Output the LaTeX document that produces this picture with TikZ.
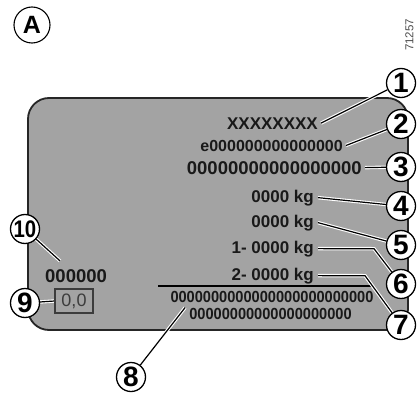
\documentclass[tikz,border=0pt]{standalone}
\usepackage{fontspec}
\setmainfont{Liberation Sans}
\definecolor{platefill}{RGB}{163,163,163}
\definecolor{inkc}{RGB}{25,25,25}
\definecolor{boxc}{RGB}{60,60,60}
\pgfdeclarelayer{bg}
\pgfdeclarelayer{mid}
\pgfsetlayers{bg,mid,main}
\tikzset{
  plate/.style={draw=black!85, line width=1.8pt, fill=platefill, rounded corners=21pt},
  callout/.style={circle, draw=black, line width=1.3pt, fill=white, minimum size=29pt, inner sep=0pt, font=\bfseries\fontsize{28}{28}\selectfont},
  leader/.style={line width=1.2pt, draw=black, preaction={draw=white, line width=3.4pt}},
  ptext/.style={inner sep=0pt, text=inkc, font=\bfseries},
  valbox/.style={draw=boxc, line width=1.1pt, minimum width=38pt, minimum height=24pt, inner sep=0pt, text=boxc, font=\fontsize{18}{18}\selectfont},
  sepline/.style={line width=1.3pt, draw=black}
}
\begin{document}
\begin{tikzpicture}[x=1pt,y=-1pt]
\useasboundingbox (0,0) rectangle (417,393);
% plate
\begin{pgfonlayer}{bg}
\draw[plate] (28,98) rectangle (408,330);
\draw[sepline] (158,286) -- (372,286);
\end{pgfonlayer}
% texts
\node[ptext, anchor=base east] (t1) at (318,129) {\fontsize{17}{17}\selectfont XXXXXXXX};
\node[ptext, anchor=base east] (t2) at (343,151) {\fontsize{16}{16}\selectfont e000000000000000};
\node[ptext, anchor=base east] (t3) at (362,174) {\fontsize{18.5}{18.5}\selectfont 00000000000000000};
\node[ptext, anchor=base east] (t4) at (314,202) {\fontsize{17}{17}\selectfont 0000 kg};
\node[ptext, anchor=base east] (t5) at (314,227) {\fontsize{17}{17}\selectfont 0000 kg};
\node[ptext, anchor=base east] (t6) at (314,253) {\fontsize{17}{17}\selectfont 1- 0000 kg};
\node[ptext, anchor=base east] (t7) at (314,280) {\fontsize{17}{17}\selectfont 2- 0000 kg};
\node[ptext, anchor=base] (t8a) at (272,302) {\scalebox{1}[1.1]{\fontsize{14.6}{14.6}\selectfont 0000000000000000000000000}};
\node[ptext, anchor=base] (t8b) at (270.5,319) {\scalebox{1}[1.1]{\fontsize{14.6}{14.6}\selectfont 00000000000000000000}};
\node[ptext, anchor=base west] (t10) at (45,282) {\fontsize{18.5}{18.5}\selectfont 000000};
\node[valbox] (b9) at (74,301) {0,0};
% callouts
\node[callout] (c1) at (401,83) {1};
\node[callout] (c2) at (401,124) {2};
\node[callout] (c3) at (401,167) {3};
\node[callout] (c4) at (401,206) {4};
\node[callout] (c5) at (401,245) {5};
\node[callout] (c6) at (401,284) {6};
\node[callout] (c7) at (401,325) {7};
\node[callout] (c8) at (131,377) {8};
\node[callout] (c9) at (25,303) {9};
\node[callout] (c10) at (25,229) {\scalebox{0.85}[1]{\fontsize{24}{24}\selectfont 10}};
\node[callout, minimum size=36pt, line width=1.1pt, font=\bfseries\fontsize{25}{25}\selectfont] (cA) at (32,25) {A};
\node[rotate=90, inner sep=0pt, text=black!70, font=\fontsize{11.5}{11.5}\selectfont] (ref) at (409.5,35) {71257};
% bend points
\coordinate (b6) at (374,248.7);
\coordinate (b7) at (365,275.7);
% leaders
\begin{pgfonlayer}{mid}
\draw[leader] ([xshift=3pt]t1.east) -- (c1);
\draw[leader] ([xshift=3pt]t2.east) -- (c2);
\draw[leader] ([xshift=3pt]t3.east) -- (c3);
\draw[leader] ([xshift=4pt]t4.east) -- (c4);
\draw[leader] ([xshift=4pt]t5.east) -- (c5);
\draw[leader] ([xshift=4pt]t6.east) -- (b6) -- (c6);
\draw[leader] ([xshift=4pt]t7.east) -- (b7) -- (c7);
\draw[leader] ([shift={(-4,0)}]t8b.north west) -- (c8);
\draw[leader] (b9.west) -- (c9);
\draw[leader] ([shift={(15,-8)}]t10.north west) -- (c10);
\end{pgfonlayer}
\end{tikzpicture}
\end{document}
